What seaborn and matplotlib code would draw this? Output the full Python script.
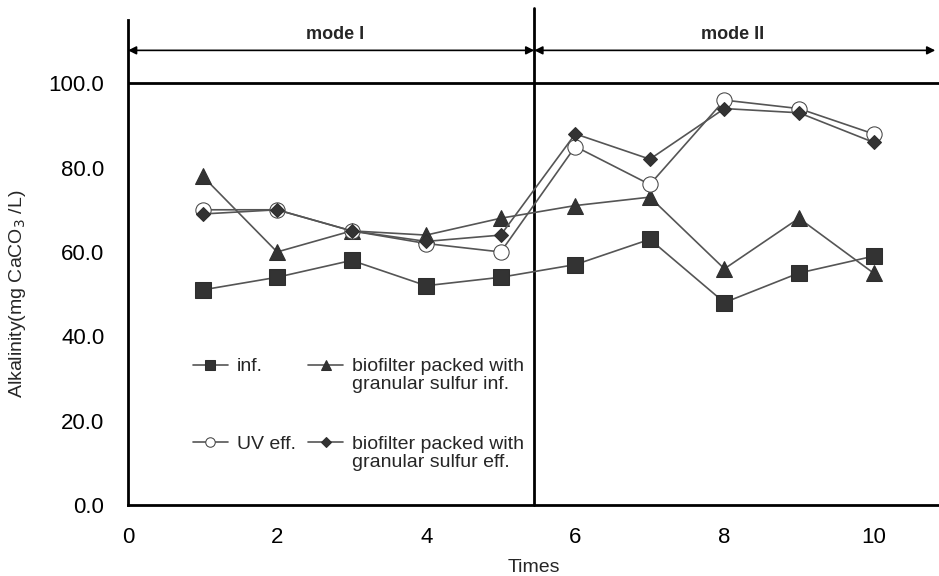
import matplotlib
matplotlib.use("Agg")
import matplotlib.pyplot as plt
import seaborn as sns

times = [1, 2, 3, 4, 5, 6, 7, 8, 9, 10]
inf = [51, 54, 58, 52, 54, 57, 63, 48, 55, 59]
bio_inf = [78, 60, 65, 64, 68, 71, 73, 56, 68, 55]
uv_eff = [70, 70, 65, 62, 60, 85, 76, 96, 94, 88]
bio_eff = [69, 70, 65, 62.5, 64, 88, 82, 94, 93, 86]
yticks = [0, 20, 40, 60, 80, 100]
xticks = [0, 2, 4, 6, 8, 10]
mode_split = 5.45

sns.set_style("white")
plt.rcParams["font.family"] = ["Liberation Sans", "DejaVu Sans"]

fig = plt.figure(figsize=(9.39, 5.76), dpi=100)
ax = fig.add_axes([128 / 939, 71 / 576, 811 / 939, 485 / 576])
x_max = 811 / 74.55

line_kw = dict(color="#555555", linewidth=1.2, markeredgecolor="#2e2e2e")
series = [
    ("inf.", inf, dict(marker="s", markersize=11, markerfacecolor="#333333")),
    ("bio_inf", bio_inf, dict(marker="^", markersize=11, markerfacecolor="#333333")),
    ("UV eff.", uv_eff, dict(marker="o", markersize=11, markerfacecolor="white",
                             markeredgecolor="#444444")),
    ("bio_eff", bio_eff, dict(marker="D", markersize=7.5, markerfacecolor="#333333")),
]
handles = {}
for name, vals, mk in series:
    kw = dict(line_kw)
    kw.update(mk)
    sns.lineplot(x=times, y=vals, ax=ax, zorder=3, **kw)
    handles[name] = ax.lines[-1]

ax.set_xlim(0, x_max)
ax.set_ylim(0, 115)
ax.set_xticks(xticks)
ax.set_yticks(yticks)
ax.set_yticklabels([f"{v:.1f}" for v in yticks])
ax.tick_params(axis="both", direction="in", length=5, width=1, labelsize=16,
               colors="black")
ax.tick_params(axis="y", pad=17)
ax.tick_params(axis="x", pad=16)
for s in ["top", "right"]:
    ax.spines[s].set_visible(False)
for s in ["left", "bottom"]:
    ax.spines[s].set_linewidth(2)
    ax.spines[s].set_color("black")

ax.axhline(100, color="black", linewidth=2, zorder=2)
ax.plot([mode_split, mode_split], [0, 117.8], color="black", linewidth=2,
        clip_on=False, zorder=2)

arrow_y = 107.8
arrow_kw = dict(arrowstyle="<|-|>", color="black", lw=1.2, mutation_scale=12,
                shrinkA=0, shrinkB=0)
ax.annotate("", xy=(0, arrow_y), xytext=(mode_split, arrow_y), arrowprops=arrow_kw)
ax.annotate("", xy=(mode_split, arrow_y), xytext=(x_max - 0.05, arrow_y),
            arrowprops=arrow_kw)
ax.text(mode_split / 2 + 0.05, 111.6, "mode I", ha="center", va="center",
        fontsize=13, fontweight="bold")
ax.text((mode_split + x_max) / 2 - 0.05, 111.6, "mode II", ha="center",
        va="center", fontsize=13, fontweight="bold")

ax.set_xlabel("Times", fontsize=14, labelpad=8)
ax.set_ylabel("Alkalinity(mg CaCO$_3$ /L)", fontsize=14)
ax.yaxis.set_label_coords(-0.123, 50 / 115)

# two-row legend; the long labels continue on a second line beneath
order = ["inf.", "UV eff.", "bio_inf", "bio_eff"]
first_lines = ["inf.", "UV eff.", "biofilter packed with", "biofilter packed with"]
second_lines = {2: "granular sulfur inf.", 3: "granular sulfur eff."}
leg = ax.legend([handles[k] for k in order], first_lines, ncol=2, frameon=False,
                loc="upper left", bbox_to_anchor=(0.080, 0.3036),
                borderpad=0, borderaxespad=0,
                handlelength=1.8, handletextpad=0.45, columnspacing=0.66,
                labelspacing=3.1, markerscale=0.62, fontsize=14)

fig.canvas.draw()
to_axes = ax.transAxes.inverted()
for i, txt in enumerate(leg.get_texts()):
    if i in second_lines:
        bb = txt.get_window_extent()
        x0, y0 = to_axes.transform((bb.x0, bb.y0))
        ax.text(x0, y0 - 1 / 485, second_lines[i], transform=ax.transAxes,
                ha="left", va="top", fontsize=14)

fig.savefig("out.png", dpi=100)
